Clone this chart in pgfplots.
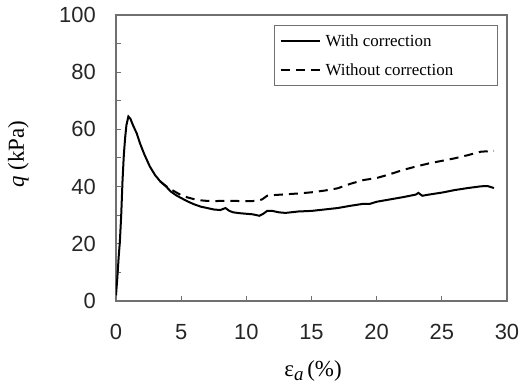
\documentclass[border=0pt]{standalone}
\usepackage{pgfplots}
\pgfplotsset{compat=1.18}
\usepackage{fontspec}
\setmainfont{Liberation Serif}
\newfontfamily\ticksans{Liberation Sans}
\definecolor{axgray}{HTML}{707070}
\begin{document}
\begin{tikzpicture}
\useasboundingbox (-116bp,-86bp) rectangle (407bp,301bp);
\begin{axis}[
  at={(0,0)}, anchor=south west,
  width=391bp, height=286bp, scale only axis,
  xmin=0, xmax=30, ymin=0, ymax=100,
  xtick={0,5,...,30}, ytick={0,20,...,100},
  minor ytick={10,30,...,90},
  tick align=inside, xtick pos=bottom, ytick pos=left,
  major tick length=5bp, minor tick length=5bp,
  every tick/.style={axgray, line width=1bp},
  axis line style={axgray, line width=1.2bp},
  /pgf/number format/assume math mode=true,
  tick label style={font=\ticksans\fontsize{22}{24}\selectfont, text=black!85},
  yticklabel style={anchor=east, inner sep=0pt, xshift=-20bp},
  xticklabel style={anchor=north, inner sep=0pt, yshift=-23bp},
  ylabel={\textit{q} (kPa)},
  ylabel style={at={(axis description cs:-0.25,0.514)}, anchor=center, rotate=0, font=\fontsize{23}{25}\selectfont},
  xlabel={ε\raisebox{-0.35ex}{\fontsize{19}{19}\selectfont\textit{a}}\,(\%)},
  xlabel style={at={(axis description cs:0.504,-0.245)}, anchor=center, font=\fontsize{23}{25}\selectfont},
  legend style={at={(0.977,0.965)}, anchor=north east, draw=axgray, line width=1bp,
    font=\fontsize{17}{19}\selectfont, inner xsep=5bp, inner ysep=7bp, row sep=12bp,
    /tikz/every odd column/.append style={column sep=3bp}},
  legend cell align=left,
  legend image code/.code={\draw[#1] (0bp,0bp) -- (39bp,0bp);},
]
\addplot[black, line width=2bp] coordinates {
(0,2) (0.1,8) (0.2,15) (0.3,21) (0.4,30) (0.5,42) (0.6,51) (0.7,57) (0.8,61.5) (0.95,64.5)
(1.1,63.8) (1.3,61.5) (1.6,58.5) (1.85,55) (2.2,51) (2.6,47) (3.0,44) (3.4,41.8) (3.8,40.2)
(4.2,38.3) (4.6,37) (5.0,36) (5.5,34.8) (6.0,33.8) (6.5,33) (7.0,32.5) (7.5,32) (8.0,31.8)
(8.4,32.5) (8.7,31.5) (9.0,31) (9.5,30.7) (10,30.5) (10.5,30.3) (11,29.8) (11.3,30.5)
(11.6,31.5) (12,31.5) (12.5,31) (13,30.8) (14,31.3) (15,31.5) (16,32) (17,32.5) (18,33.3)
(19,34) (19.5,34) (20,34.7) (21,35.5) (22,36.3) (23,37.2) (23.2,37.8) (23.5,36.8) (24,37.2)
(25,37.9) (26,38.8) (27,39.5) (28,40.1) (28.5,40.2) (29,39.5)
};
\addlegendentry{\makebox[165bp][l]{With correction}}
\addplot[black, line width=2bp, dash pattern=on 9bp off 6bp] coordinates {
(3.4,41.8) (3.8,40.3) (4.3,38.8) (5.0,37) (5.5,36.2) (6,35.6) (6.5,35.2) (7,35) (7.5,34.9)
(8,35) (9,35) (10,34.9) (10.8,35) (11.2,35.5) (11.6,36.8) (12,37) (13,37.3) (14,37.6)
(15,38) (16,38.6) (17,39.4) (18,41) (19,42.3) (20,43) (21,44.3) (22,45.8) (23,47)
(24,48.1) (25,49) (26,49.9) (27,51) (28,52.2) (29,52.5)
};
\addlegendentry{\makebox[165bp][l]{Without correction}}
\end{axis}
\end{tikzpicture}
\end{document}
